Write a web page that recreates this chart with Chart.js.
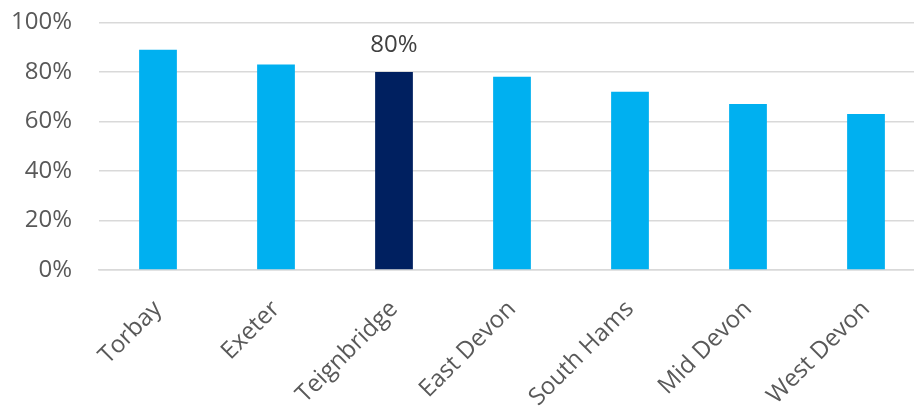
<!DOCTYPE html>
<html>
<head>
<meta charset="utf-8">
<script src="https://cdn.jsdelivr.net/npm/chart.js@4"></script>
<style>
  html, body { margin: 0; padding: 0; background: #fff; overflow: hidden; }
  #wrap { width: 925px; height: 428px; margin-top: -19px; }
</style>
</head>
<body>
<div id="wrap"><canvas id="districtChart" width="925" height="428"></canvas></div>
<script>
const districts = ["Torbay", "Exeter", "Teignbridge", "East Devon", "South Hams", "Mid Devon", "West Devon"];
const shares = [89, 83, 80, 78, 72, 67, 63];
const yTicks = [0, 20, 40, 60, 80, 100];
const highlighted = "Teignbridge";

const barColours = districts.map(d => d === highlighted ? "#002060" : "#00B0F0");

// write the value above the highlighted bar only
const highlightLabel = {
    id: "highlightLabel",
    afterDatasetsDraw(chart) {
        const ctx = chart.ctx;
        const meta = chart.getDatasetMeta(0);
        const i = districts.indexOf(highlighted);
        const bar = meta.data[i];
        ctx.save();
        ctx.font = "24px 'Open Sans'";
        ctx.fillStyle = "#404040";
        ctx.textAlign = "center";
        ctx.textBaseline = "bottom";
        ctx.fillText(shares[i] + "%", bar.x, bar.y - 15);
        ctx.restore();
    }
};

const ctx = document.getElementById("districtChart").getContext("2d");
new Chart(ctx, {
    type: "bar",
    data: {
        labels: districts,
        datasets: [{
            data: shares,
            backgroundColor: barColours,
            barPercentage: 0.32,
            categoryPercentage: 1.0,
        }],
    },
    plugins: [highlightLabel],
    options: {
        responsive: false,
        animation: false,
        layout: { padding: 0 },
        plugins: {
            legend: { display: false },
            tooltip: { enabled: false },
        },
        scales: {
            x: {
                grid: { display: false, drawTicks: false },
                border: { color: "#D9D9D9", width: 1.5 },
                ticks: {
                    color: "#595959",
                    font: { family: "'Open Sans'", size: 24 },
                    maxRotation: 45,
                    minRotation: 45,
                    padding: 25,
                },
                afterFit(axis) { axis.height = 139; },
            },
            y: {
                min: 0,
                max: 100,
                afterBuildTicks(axis) { axis.ticks = yTicks.map(v => ({ value: v })); },
                grid: { color: "#D9D9D9", lineWidth: 1.5, drawTicks: false },
                border: { display: false },
                ticks: {
                    color: "#595959",
                    font: { family: "'Open Sans'", size: 24 },
                    padding: 27,
                    callback: v => v + "%",
                },
                afterFit(axis) { axis.width = 99; },
            },
        },
    },
});
</script>
</body>
</html>
